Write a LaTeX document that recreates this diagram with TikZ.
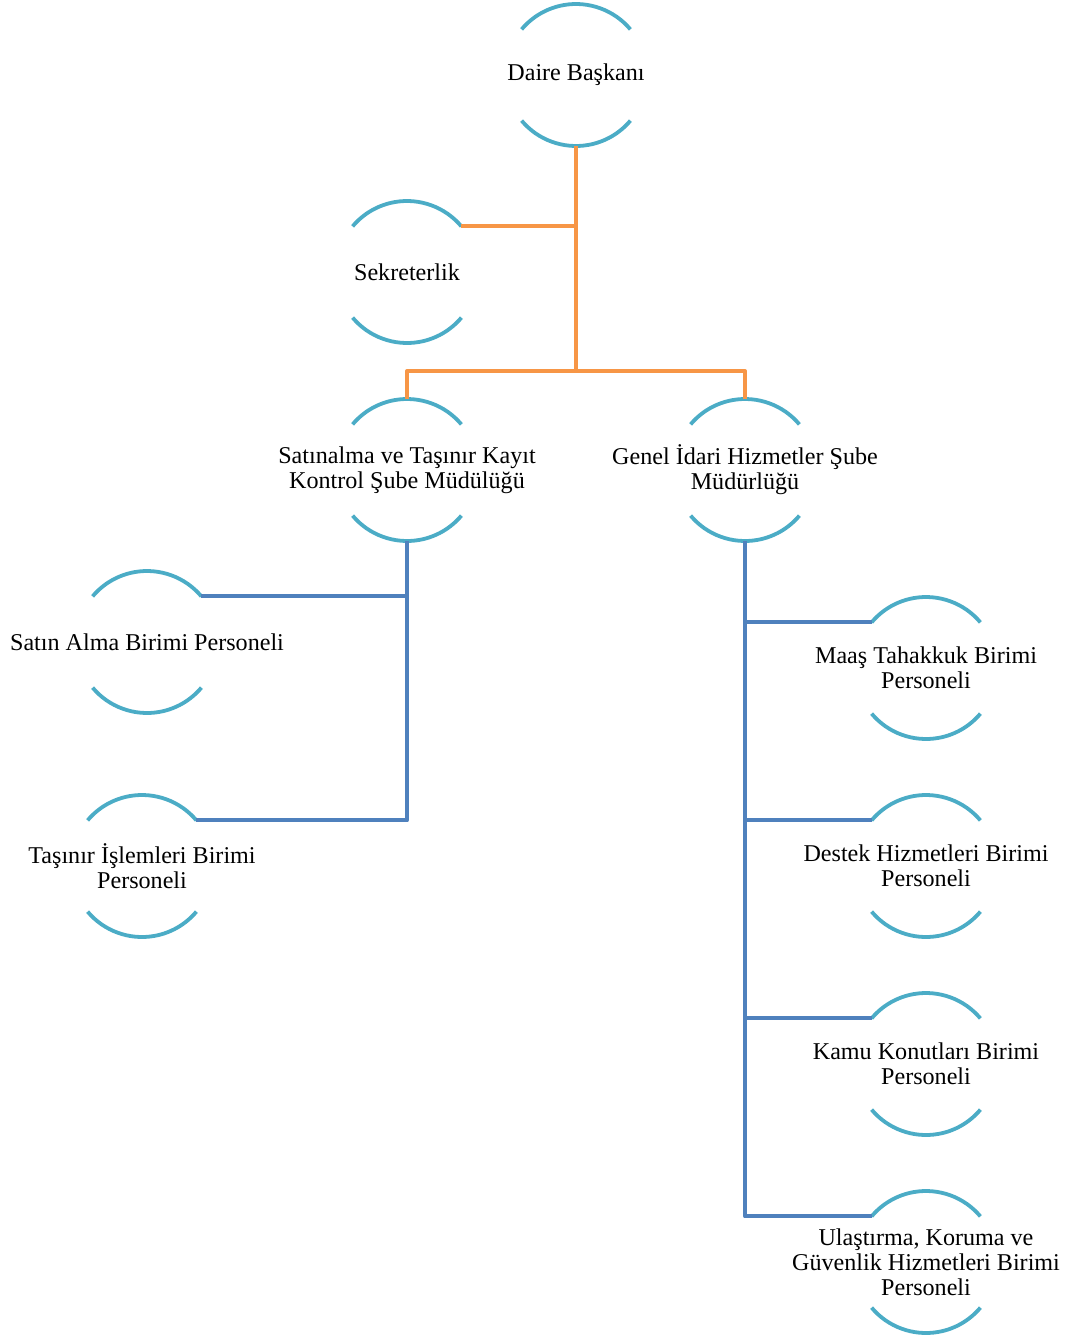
\documentclass[tikz,border=0pt]{standalone}
\usepackage{fontspec}
\setmainfont{Liberation Serif}
\usetikzlibrary{calc}

\definecolor{arcteal}{HTML}{4BACC6}
\definecolor{lineorange}{HTML}{F79646}
\definecolor{lineblue}{HTML}{4F81BD}

\begin{document}
\begin{tikzpicture}[x=1pt, y=1pt,
    unit/.style={circle, minimum size=142pt, inner sep=0pt, outer sep=0pt},
    unittext/.style={align=center, inner sep=0pt, font=\fontsize{24.1}{25}\selectfont},
    unitarc/.style={arcteal, line width=3.8pt},
    orangeline/.style={lineorange, line width=4pt, line join=round},
    blueline/.style={lineblue, line width=4pt, line join=round}]

        % Radius of the unit arcs
        \def\rUnit{71pt}

        \useasboundingbox (0,0) rectangle (1065,-1336);

        % Units
        \node[unit, label={[unittext]center:Daire Başkanı}] (daire) at (576,-75) {};
        \node[unit, label={[unittext]center:Sekreterlik}] (sekr) at (407,-272) {};
        \node[unit, label={[unittext]center:{Satınalma ve Taşınır Kayıt\\Kontrol Şube Müdülüğü}}] (satin) at (407,-470) {};
        \node[unit, label={[unittext]center:{Genel İdari Hizmetler Şube\\Müdürlüğü}}] (genel) at (745,-470) {};

        \node[unit, label={[unittext]center:Satın Alma Birimi Personeli}] (satinalma) at (147,-642) {};
        \node[unit, label={[unittext]center:{Taşınır İşlemleri Birimi\\Personeli}}] (tasinir) at (142,-866) {};

        \node[unit, label={[unittext]center:{Maaş Tahakkuk Birimi\\Personeli}}] (maas) at (926,-668) {};
        \node[unit, label={[unittext]center:{Destek Hizmetleri Birimi\\Personeli}}] (destek) at (926,-866) {};
        \node[unit, label={[unittext]center:{Kamu Konutları Birimi\\Personeli}}] (kamu) at (926,-1064) {};
        \node[unit, label={[unittext]center:{Ulaştırma, Koruma ve\\Güvenlik Hizmetleri Birimi\\Personeli}}] (ulas) at (926,-1262) {};

        % Arcs above and below each unit
        \foreach \n in {daire, sekr, satin, genel, satinalma, tasinir, maas, destek, kamu, ulas}
            \draw[unitarc] (\n.40) arc[start angle=40, end angle=140, radius=\rUnit]
                (\n.220) arc[start angle=220, end angle=320, radius=\rUnit];

        % Orange connectors
        \coordinate (tbar) at ($(daire.south)+(0,-225)$);
        \draw[orangeline] (daire.south) -- (tbar);
        \draw[orangeline] (sekr.40) -- (sekr.40 -| daire.south);
        \draw[orangeline] (satin.north) |- (tbar) -| (genel.north);

        % Blue connectors, left branch
        \draw[blueline] (satin.south) |- (tasinir.40);
        \draw[blueline] (satinalma.40) -- (satinalma.40 -| satin.south);

        % Blue connectors, right branch
        \draw[blueline] (genel.south) |- (ulas.140);
        \foreach \n in {maas, destek, kamu}
            \draw[blueline] (\n.140) -- (\n.140 -| genel.south);

    \end{tikzpicture}
\end{document}
